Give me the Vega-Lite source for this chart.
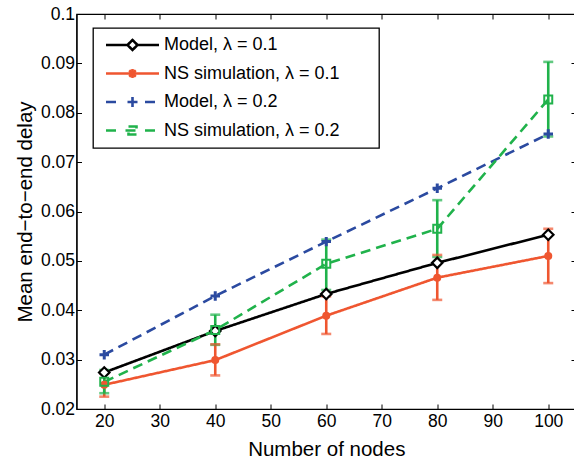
{
  "$schema": "https://vega.github.io/schema/vega-lite/v6.json",
  "width": 499.5,
  "height": 395,
  "autosize": {"type": "none"},
  "padding": {"left": 76.5, "top": 14, "right": 0, "bottom": 51},
  "config": {
    "font": "Liberation Sans",
    "view": {"stroke": "black", "strokeWidth": 1.2},
    "axis": {
      "grid": false,
      "domainColor": "black",
      "domainWidth": 1.2,
      "tickColor": "black",
      "tickWidth": 1,
      "tickSize": -5,
      "labelColor": "black",
      "labelFont": "Liberation Sans",
      "labelFontSize": 17.5,
      "titleFont": "Liberation Sans",
      "titleFontSize": 20.5,
      "titleFontWeight": "normal",
      "titleColor": "black"
    }
  },
  "data": {
    "values": [
      {"series": "Model, λ = 0.1", "n": 20, "y": 0.0274},
      {"series": "Model, λ = 0.1", "n": 40, "y": 0.0358},
      {"series": "Model, λ = 0.1", "n": 60, "y": 0.0433},
      {"series": "Model, λ = 0.1", "n": 80, "y": 0.0496},
      {"series": "Model, λ = 0.1", "n": 100, "y": 0.0553},
      {"series": "NS simulation, λ = 0.1", "n": 20, "y": 0.0249, "lo": 0.0225, "hi": 0.0272},
      {"series": "NS simulation, λ = 0.1", "n": 40, "y": 0.0299, "lo": 0.0268, "hi": 0.0331},
      {"series": "NS simulation, λ = 0.1", "n": 60, "y": 0.0389, "lo": 0.0352, "hi": 0.0428},
      {"series": "NS simulation, λ = 0.1", "n": 80, "y": 0.0466, "lo": 0.0421, "hi": 0.0512},
      {"series": "NS simulation, λ = 0.1", "n": 100, "y": 0.0510, "lo": 0.0455, "hi": 0.0565},
      {"series": "Model, λ = 0.2", "n": 20, "y": 0.0310},
      {"series": "Model, λ = 0.2", "n": 40, "y": 0.0429},
      {"series": "Model, λ = 0.2", "n": 60, "y": 0.0539},
      {"series": "Model, λ = 0.2", "n": 80, "y": 0.0647},
      {"series": "Model, λ = 0.2", "n": 100, "y": 0.0757},
      {"series": "NS simulation, λ = 0.2", "n": 20, "y": 0.0255, "lo": 0.0232, "hi": 0.0279},
      {"series": "NS simulation, λ = 0.2", "n": 40, "y": 0.0360, "lo": 0.0330, "hi": 0.0391},
      {"series": "NS simulation, λ = 0.2", "n": 60, "y": 0.0494, "lo": 0.0441, "hi": 0.0543},
      {"series": "NS simulation, λ = 0.2", "n": 80, "y": 0.0565, "lo": 0.0508, "hi": 0.0623},
      {"series": "NS simulation, λ = 0.2", "n": 100, "y": 0.0827, "lo": 0.0752, "hi": 0.0903}
    ]
  },
  "encoding": {
    "x": {
      "field": "n", "type": "quantitative",
      "scale": {"domain": [15, 105], "nice": false, "zero": false},
      "axis": null
    },
    "y": {
      "field": "y", "type": "quantitative",
      "scale": {"domain": [0.02, 0.1], "nice": false, "zero": false},
      "axis": null
    }
  },
  "layer": [
    {
      "mark": {"type": "line", "strokeWidth": 2.6},
      "encoding": {
        "x": {
          "field": "n", "type": "quantitative",
          "scale": {"domain": [15, 105], "nice": false, "zero": false},
          "axis": {"orient": "bottom", "values": [20, 30, 40, 50, 60, 70, 80, 90, 100], "title": "Number of nodes", "labelPadding": 8, "titlePadding": 10}
        },
        "y": {
          "field": "y", "type": "quantitative",
          "scale": {"domain": [0.02, 0.1], "nice": false, "zero": false},
          "axis": {"orient": "left", "values": [0.02, 0.03, 0.04, 0.05, 0.06, 0.07, 0.08, 0.09, 0.1], "format": ".2~f", "title": "Mean end−to−end delay", "labelPadding": 7, "titlePadding": 5}
        },
        "color": {
          "field": "series", "type": "nominal",
          "scale": {
            "domain": ["Model, λ = 0.1", "NS simulation, λ = 0.1", "Model, λ = 0.2", "NS simulation, λ = 0.2"],
            "range": ["#000000", "#ef5630", "#2b4aa0", "#20b24b"]
          },
          "legend": {
            "title": null,
            "orient": "none",
            "legendX": 16.5,
            "legendY": 14,
            "direction": "vertical",
            "labelFont": "Liberation Sans",
            "labelFontSize": 18,
            "labelColor": "black",
            "labelLimit": 400,
            "labelOffset": 45,
            "symbolType": "stroke",
            "symbolSize": 100,
            "symbolStrokeWidth": 2.6,
            "symbolFillColor": "transparent",
            "rowPadding": 7.5,
            "padding": 8,
            "strokeColor": "black",
            "fillColor": "white",
            "cornerRadius": 0,
            "encode": {
              "legend": {"update": {"strokeWidth": {"value": 1.3}}},
              "symbols": {
                "update": {
                  "shape": {"signal": "datum.value === 'Model, λ = 0.1' ? 'M-0.8,0H3.5M5.5,0H9.8M4.5,-1L5.5,0L4.5,1L3.5,0ZM51,0' : datum.value === 'NS simulation, λ = 0.1' ? 'M-0.8,0H9.8M4.5,-0.9V0.9M3.85,-0.65L5.15,0.65M3.85,0.65L5.15,-0.65M51,0' : datum.value === 'Model, λ = 0.2' ? 'M-0.8,0H2M3.5,0H5.5M4.5,-1V1M7,0H9.8M51,0' : 'M-0.8,0H2M7,0H9.8M3.1,0H5.9M3.7,-0.8H5.3V0.8H3.7ZM51,0'"},
                  "fill": {"value": "transparent"},
                  "fillOpacity": {"value": 0},
                  "strokeDash": {"value": []}
                }
              }
            }
          }
        },
        "strokeDash": {
          "field": "series", "type": "nominal",
          "scale": {
            "domain": ["Model, λ = 0.1", "NS simulation, λ = 0.1", "Model, λ = 0.2", "NS simulation, λ = 0.2"],
            "range": [[1, 0], [1, 0], [10, 6], [10, 6]]
          },
          "legend": null
        }
      }
    },
    {
      "transform": [{"filter": "isValid(datum.lo)"}],
      "mark": {"type": "rule", "strokeWidth": 2.6},
      "encoding": {
        "y": {"field": "lo", "type": "quantitative", "axis": null},
        "y2": {"field": "hi"},
        "color": {"field": "series", "type": "nominal", "legend": null}
      }
    },
    {
      "transform": [{"filter": "isValid(datum.lo)"}],
      "mark": {"type": "tick", "orient": "horizontal", "size": 10, "thickness": 2.6},
      "encoding": {
        "y": {"field": "lo", "type": "quantitative", "axis": null},
        "color": {"field": "series", "type": "nominal", "legend": null}
      }
    },
    {
      "transform": [{"filter": "isValid(datum.lo)"}],
      "mark": {"type": "tick", "orient": "horizontal", "size": 10, "thickness": 2.6},
      "encoding": {
        "y": {"field": "hi", "type": "quantitative", "axis": null},
        "color": {"field": "series", "type": "nominal", "legend": null}
      }
    },
    {
      "transform": [{"filter": "datum.series === 'Model, λ = 0.1'"}],
      "mark": {"type": "point", "shape": "diamond", "size": 110, "filled": true, "fill": "white", "stroke": "black", "strokeWidth": 2.2, "opacity": 1}
    },
    {
      "transform": [{"filter": "datum.series === 'NS simulation, λ = 0.1'"}],
      "mark": {"type": "point", "shape": "circle", "size": 64, "filled": true, "fill": "#ef5630", "opacity": 1}
    },
    {
      "transform": [{"filter": "datum.series === 'Model, λ = 0.2'"}],
      "mark": {"type": "point", "shape": "M-1,0H1M0,-1V1", "size": 90, "filled": false, "stroke": "#2b4aa0", "strokeWidth": 3, "opacity": 1}
    },
    {
      "transform": [{"filter": "datum.series === 'NS simulation, λ = 0.2'"}],
      "mark": {"type": "point", "shape": "square", "size": 64, "filled": false, "stroke": "#20b24b", "strokeWidth": 2, "opacity": 1}
    },
    {
      "mark": {"type": "point", "opacity": 0},
      "encoding": {
        "x": {"field": "n", "type": "quantitative", "scale": {"domain": [15, 105], "nice": false, "zero": false}, "axis": {"orient": "top", "values": [20, 30, 40, 50, 60, 70, 80, 90, 100], "labels": false, "title": null, "domain": false}},
        "y": {"field": "y", "type": "quantitative", "scale": {"domain": [0.02, 0.1], "nice": false, "zero": false}, "axis": {"orient": "right", "values": [0.02, 0.03, 0.04, 0.05, 0.06, 0.07, 0.08, 0.09, 0.1], "labels": false, "title": null, "domain": false}}
      }
    }
  ]
}
